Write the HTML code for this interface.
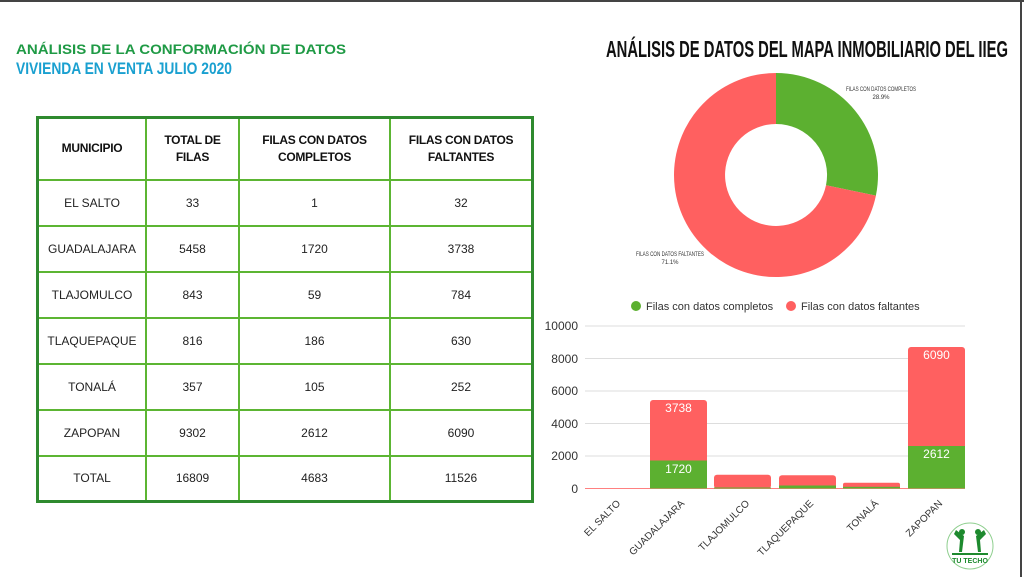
<!DOCTYPE html>
<html><head><meta charset="utf-8"><style>
body{margin:0;width:1024px;height:577px;background:#fff;position:relative;overflow:hidden;font-family:"Liberation Sans",sans-serif}
table{position:absolute;left:36px;top:116px;border-collapse:collapse;border:3px solid #2f8a2f}
td{border:2px solid #5cb533;text-align:center;font-size:12px;color:#222;padding:0}
th{border:2px solid #5cb533;font-size:12px;font-weight:bold;color:#111;padding:0;line-height:17px;letter-spacing:-0.3px}
</style></head><body>
<div style="position:absolute;left:0;top:0;width:1024px;height:2px;background:#444"></div>
<div style="position:absolute;left:1020px;top:0;width:2px;height:577px;background:#444"></div>
<table>
<tr style="height:62px"><th style="width:106px">MUNICIPIO</th><th style="width:91px">TOTAL DE<br>FILAS</th><th style="width:149px">FILAS CON DATOS<br>COMPLETOS</th><th style="width:140px">FILAS CON DATOS<br>FALTANTES</th></tr>
<tr style="height:46px"><td>EL SALTO</td><td>33</td><td>1</td><td>32</td></tr>
<tr style="height:46px"><td>GUADALAJARA</td><td>5458</td><td>1720</td><td>3738</td></tr>
<tr style="height:46px"><td>TLAJOMULCO</td><td>843</td><td>59</td><td>784</td></tr>
<tr style="height:46px"><td>TLAQUEPAQUE</td><td>816</td><td>186</td><td>630</td></tr>
<tr style="height:46px"><td>TONALÁ</td><td>357</td><td>105</td><td>252</td></tr>
<tr style="height:46px"><td>ZAPOPAN</td><td>9302</td><td>2612</td><td>6090</td></tr>
<tr style="height:46px"><td>TOTAL</td><td>16809</td><td>4683</td><td>11526</td></tr>
</table>
<svg width="1024" height="577" style="position:absolute;left:0;top:0" font-family="Liberation Sans, sans-serif">
<text x="16" y="54" font-size="14" font-weight="bold" fill="#1f9a45" textLength="330" lengthAdjust="spacingAndGlyphs">ANÁLISIS DE LA CONFORMACIÓN DE DATOS</text>
<text x="16" y="74" font-size="17" font-weight="bold" fill="#1aa0d0" textLength="216" lengthAdjust="spacingAndGlyphs">VIVIENDA EN VENTA JULIO 2020</text>
<text x="606" y="57" font-size="23" font-weight="bold" fill="#111" textLength="402" lengthAdjust="spacingAndGlyphs">ANÁLISIS DE DATOS DEL MAPA INMOBILIARIO DEL IIEG</text>
<!-- donut -->
<path d="M776,73 A102,102 0 0 1 875.9,195.6 L826,185.3 A51,51 0 0 0 776,124 Z" fill="#5cb030"/>
<path d="M875.9,195.6 A102,102 0 1 1 776,73 L776,124 A51,51 0 1 0 826,185.3 Z" fill="#ff6060"/>
<text x="881" y="91" font-size="6" text-anchor="middle" fill="#333" textLength="70" lengthAdjust="spacingAndGlyphs">FILAS CON DATOS COMPLETOS</text>
<text x="881" y="99" font-size="6" text-anchor="middle" fill="#333">28.9%</text>
<text x="670" y="256" font-size="6" text-anchor="middle" fill="#333" textLength="68" lengthAdjust="spacingAndGlyphs">FILAS CON DATOS FALTANTES</text>
<text x="670" y="264" font-size="6" text-anchor="middle" fill="#333">71.1%</text>
<!-- legend -->
<circle cx="636" cy="306" r="5" fill="#5cb030"/><text x="646" y="310" font-size="11" fill="#333">Filas con datos completos</text>
<circle cx="791" cy="306" r="5" fill="#ff6060"/><text x="801" y="310" font-size="11" fill="#333">Filas con datos faltantes</text>
<g stroke="#ddd" stroke-width="1">
<line x1="585" x2="965" y1="326" y2="326"/><line x1="585" x2="965" y1="358.5" y2="358.5"/><line x1="585" x2="965" y1="391" y2="391"/><line x1="585" x2="965" y1="423.5" y2="423.5"/><line x1="585" x2="965" y1="456" y2="456"/>
</g>
<g font-size="12" fill="#333" text-anchor="end">
<text x="578" y="330">10000</text><text x="578" y="363">8000</text><text x="578" y="395">6000</text><text x="578" y="428">4000</text><text x="578" y="460">2000</text><text x="578" y="493">0</text>
</g>
<line x1="585" x2="965" y1="488.5" y2="488.5" stroke="#ff8080"/>
<rect x="650" y="400" width="57" height="88.5" rx="3" fill="#ff6060"/><rect x="650" y="460.5" width="57" height="28" fill="#5cb030"/>
<rect x="714" y="474.8" width="57" height="13.7" rx="3" fill="#ff6060"/><rect x="714" y="487.5" width="57" height="1" fill="#5cb030"/>
<rect x="779" y="475.2" width="57" height="13.3" rx="3" fill="#ff6060"/><rect x="779" y="485.5" width="57" height="3" fill="#5cb030"/>
<rect x="843" y="482.7" width="57" height="5.8" rx="2" fill="#ff6060"/><rect x="843" y="486.8" width="57" height="1.7" fill="#5cb030"/>
<rect x="908" y="347" width="57" height="141.5" rx="3" fill="#ff6060"/><rect x="908" y="446" width="57" height="42.5" fill="#5cb030"/>
<g font-size="12" fill="#fff" text-anchor="middle">
<text x="678.5" y="412">3738</text><text x="678.5" y="473">1720</text>
<text x="936.5" y="359">6090</text><text x="936.5" y="458">2612</text>
</g>
<g font-size="10" fill="#333" text-anchor="end">
<text transform="translate(621,504) rotate(-45)">EL SALTO</text>
<text transform="translate(685,504) rotate(-45)">GUADALAJARA</text>
<text transform="translate(750,504) rotate(-45)">TLAJOMULCO</text>
<text transform="translate(814,504) rotate(-45)">TLAQUEPAQUE</text>
<text transform="translate(879,504) rotate(-45)">TONALÁ</text>
<text transform="translate(943,504) rotate(-45)">ZAPOPAN</text>
</g>
<circle cx="970" cy="546" r="23" fill="none" stroke="#8fcf8f" stroke-width="1"/>
<g fill="#1d8a2e"><circle cx="962" cy="532" r="3"/><circle cx="978" cy="532" r="3"/>
<path d="M956,530 L964,536 L962,552 L959,552 L960,540 L954,534Z"/><path d="M984,530 L976,536 L978,552 L981,552 L980,540 L986,534Z"/>
<rect x="952" y="553" width="36" height="2"/></g>
<text x="970" y="563" font-size="7" font-weight="bold" fill="#1d8a2e" text-anchor="middle">TU TECHO</text>
</svg>
</body></html>
